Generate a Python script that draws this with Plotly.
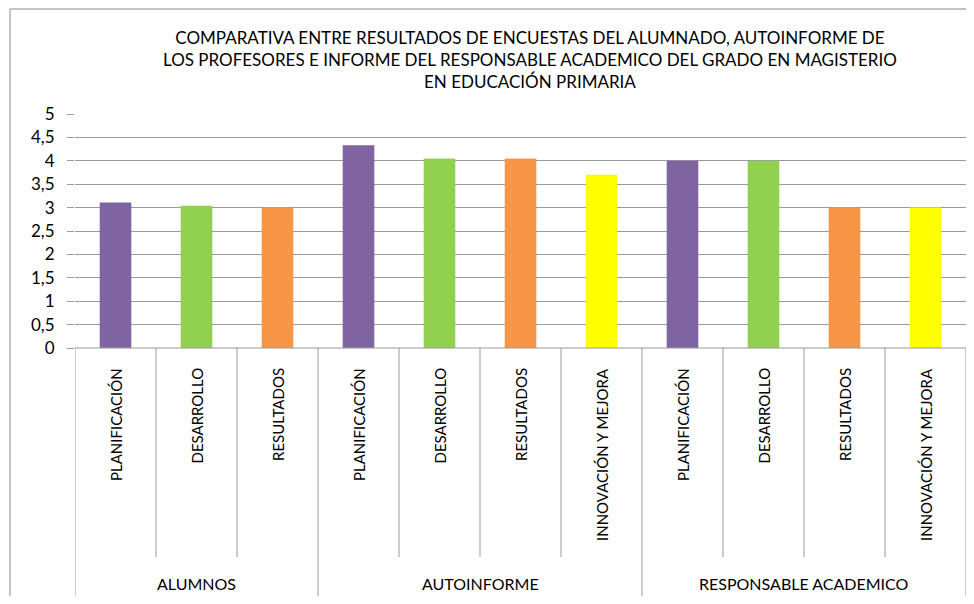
import plotly.graph_objects as go

# data
groups = ["ALUMNOS", "AUTOINFORME", "RESPONSABLE ACADEMICO"]
group_items = [
    ["PLANIFICACIÓN", "DESARROLLO", "RESULTADOS"],
    ["PLANIFICACIÓN", "DESARROLLO", "RESULTADOS", "INNOVACIÓN Y MEJORA"],
    ["PLANIFICACIÓN", "DESARROLLO", "RESULTADOS", "INNOVACIÓN Y MEJORA"],
]
values = [3.11, 3.04, 3.0, 4.33, 4.05, 4.05, 3.7, 4.0, 4.0, 3.0, 3.0]
y_ticks = [0, 0.5, 1, 1.5, 2, 2.5, 3, 3.5, 4, 4.5, 5]

colors = {
    "PLANIFICACIÓN": "#8064A2",
    "DESARROLLO": "#92D050",
    "RESULTADOS": "#F79646",
    "INNOVACIÓN Y MEJORA": "#FFFF00",
}

title = ("COMPARATIVA ENTRE RESULTADOS DE ENCUESTAS DEL ALUMNADO, AUTOINFORME DE<br>"
         "LOS PROFESORES E INFORME DEL RESPONSABLE ACADEMICO DEL GRADO EN MAGISTERIO<br>"
         "EN EDUCACIÓN PRIMARIA")

labels = [item for items in group_items for item in items]
xs = list(range(len(labels)))

# page has an 8px body margin, so the figure starts at (8, 8)
OFF = 8
W, H = 958, 588
ML, MT = 75 - OFF, 114 - OFF
MR = W - (966 - OFF)
MB = H - (348 - OFF)
pw, ph = W - ML - MR, H - MT - MB
font = "Lato"
line_col = "#9a9a9a"

def py(px):
    # pixel offset below the axis -> paper y
    return -px / ph

fig = go.Figure(go.Bar(
    x=xs, y=values, width=0.39,
    marker=dict(color=[colors[l] for l in labels], line=dict(width=0)),
))

shapes = []
annotations = []

# separators between sub categories and groups
bounds = []
pos = 0
for items in group_items:
    bounds.append(pos)
    pos += len(items)
bounds.append(pos)

for k in range(len(labels) + 1):
    b = k - 0.5
    is_group = k in bounds
    shapes.append(dict(type="line", xref="x", yref="paper", x0=b, x1=b,
                       y0=0, y1=py(260 if is_group else 209),
                       line=dict(color=line_col, width=1)))

shapes.append(dict(type="line", xref="x", yref="paper", x0=-0.5, x1=len(labels) - 0.5,
                   y0=0, y1=0, line=dict(color=line_col, width=1)))

# outer chart border (top and left edges visible)
bx, by = (10 - OFF - ML) / pw, 1 + (MT - (8 - OFF) - 1) / ph
shapes.append(dict(type="line", xref="paper", yref="paper", x0=bx, x1=bx + 2,
                   y0=by, y1=by, line=dict(color="#b0b0b0", width=1.5)))
shapes.append(dict(type="line", xref="paper", yref="paper", x0=bx, x1=bx,
                   y0=by, y1=py(300), line=dict(color="#b0b0b0", width=1.5)))

for x, lab in zip(xs, labels):
    annotations.append(dict(x=x, y=py(18), xref="x", yref="paper", text=lab,
                            textangle=-90, showarrow=False, xanchor="center", yanchor="top",
                            font=dict(family=font, size=15, color="#000000")))

for g, items, start in zip(groups, group_items, bounds):
    annotations.append(dict(x=start + (len(items) - 1) / 2, y=py(235), xref="x", yref="paper",
                            text=g, showarrow=False, xanchor="center", yanchor="middle",
                            font=dict(family=font, size=16, color="#000000")))

annotations.append(dict(x=(530 - OFF - ML) / pw, y=1 + (MT - (60 - OFF)) / ph,
                        xref="paper", yref="paper",
                        text=title, showarrow=False, xanchor="center", yanchor="middle",
                        font=dict(family=font, size=17, color="#000000")))

fig.update_layout(
    width=W, height=H,
    margin=dict(l=ML, r=MR, t=MT, b=MB, pad=0),
    plot_bgcolor="white", paper_bgcolor="white",
    showlegend=False,
    shapes=shapes, annotations=annotations,
    separators=",.",
    xaxis=dict(range=[-0.5, len(labels) - 0.5], showticklabels=False, showgrid=False,
               zeroline=False, ticks=""),
    yaxis=dict(range=[0, 5], tickvals=y_ticks, showgrid=True, gridcolor=line_col,
               zeroline=False, ticks="outside", ticklen=7, tickcolor=line_col,
               ticklabelstandoff=9,
               tickfont=dict(family=font, size=17, color="#000000")),
)

fig.write_html("out.html")
